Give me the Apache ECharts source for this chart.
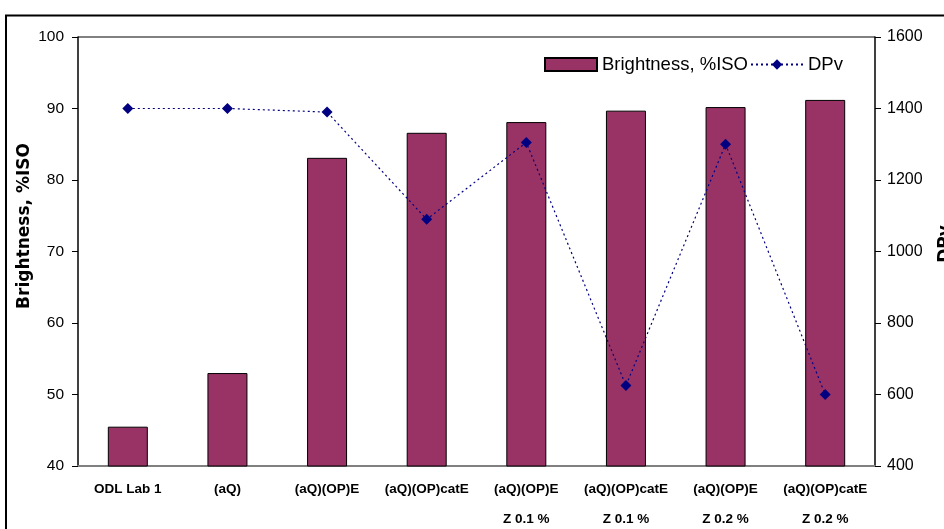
<!DOCTYPE html>
<html><head><meta charset="utf-8">
<script src="https://cdn.jsdelivr.net/npm/echarts@6/dist/echarts.min.js"></script>
<style>html,body{margin:0;padding:0;background:#fff}#c{width:944px;height:529px}</style>
</head><body><div id="c"></div>
<script>
const categories = ['ODL Lab 1', '(aQ)', '(aQ)(OP)E', '(aQ)(OP)catE', '(aQ)(OP)E\nZ 0.1 %', '(aQ)(OP)catE\nZ 0.1 %', '(aQ)(OP)E\nZ 0.2 %', '(aQ)(OP)catE\nZ 0.2 %'];
const brightness = [45.5, 53, 83.1, 86.6, 88.1, 89.7, 90.2, 91.2];
const dpv = [1400, 1400, 1390, 1090, 1305, 625, 1300, 600];
const leftTitle = 'Brightness, %ISO';
const rightTitle = 'DPv';

const chart = echarts.init(document.getElementById('c'));
const font = '"Liberation Sans", Arial, sans-serif';
const titleFont = '"DejaVu Sans", Verdana, sans-serif';
chart.setOption({
  animation: false,
  graphic: [
    {type: 'polyline', shape: {points: [[6, 529], [6, 15.5], [944, 15.5]]}, style: {stroke: '#000', lineWidth: 2, fill: null}},
    {type: 'line', shape: {x1: 78, y1: 37, x2: 875, y2: 37}, style: {stroke: '#808080', lineWidth: 2}, z: 0},
    {type: 'text', x: 25, y: 226, rotation: Math.PI / 2, style: {text: leftTitle, font: 'bold 17px ' + titleFont, fill: '#000', align: 'center', verticalAlign: 'middle'}},
    {type: 'text', x: 946, y: 244, rotation: Math.PI / 2, style: {text: rightTitle, font: 'bold 17px ' + titleFont, fill: '#000', align: 'center', verticalAlign: 'middle'}}
  ],
  grid: {left: 78, right: 69, top: 37, bottom: 63, containLabel: false, outerBoundsMode: 'none'},
  legend: {
    left: 539, top: 50, itemGap: 2, itemWidth: 52, itemHeight: 13,
    textStyle: {fontFamily: font, fontSize: 18.5, color: '#000'},
    data: [{name: 'Brightness, %ISO', icon: 'rect'}, {name: 'DPv'}]
  },
  xAxis: {
    type: 'category', data: categories,
    axisLine: {lineStyle: {color: '#808080', width: 2}},
    axisTick: {show: false},
    axisLabel: {fontFamily: font, fontWeight: 'bold', fontSize: 13.5, color: '#000', margin: 8, lineHeight: 30, interval: 0, verticalAlign: 'top'}
  },
  yAxis: [{
    type: 'value', min: 40, max: 100, interval: 10,
    axisLine: {show: true, lineStyle: {color: '#000', width: 1.5}},
    axisTick: {show: true, length: 6, lineStyle: {color: '#000'}},
    axisLabel: {fontFamily: font, fontSize: 15.5, color: '#000', margin: 14, formatter: v => String(v)},
    splitLine: {show: false}
  }, {
    type: 'value', min: 400, max: 1600, interval: 200,
    axisLine: {show: true, lineStyle: {color: '#000', width: 1.5}},
    axisTick: {show: true, length: 6, lineStyle: {color: '#000'}},
    axisLabel: {fontFamily: font, fontSize: 16, color: '#000', margin: 12, formatter: v => String(v)},
    splitLine: {show: false}
  }],
  series: [{
    name: 'Brightness, %ISO', type: 'bar', yAxisIndex: 0, data: brightness, barWidth: 40,
    itemStyle: {color: '#993366', borderColor: '#000', borderWidth: 1}
  }, {
    name: 'DPv', type: 'line', yAxisIndex: 1, data: dpv,
    symbol: 'diamond', symbolSize: 11,
    lineStyle: {color: '#000080', width: 1.2, type: [2, 3]},
    itemStyle: {color: '#000080'}
  }]
});
</script></body></html>
